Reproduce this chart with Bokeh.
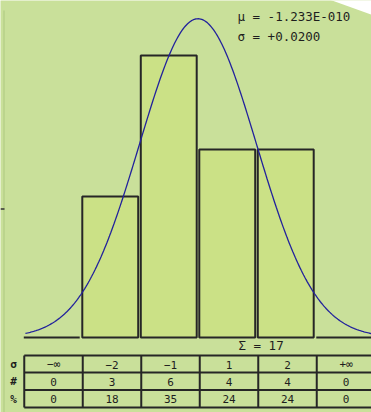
import numpy as np
from bokeh.plotting import figure
from bokeh.models import Range1d, ColumnDataSource
from bokeh.core.properties import value
from bokeh.embed import file_html
from bokeh.resources import INLINE

# ---------------- data ----------------
bin_labels = ["−∞", "−2", "−1", "1", "2", "+∞"]
bin_left = [-3, -2, -1, 0, 1, 2]      # in sigma units
bin_right = [-2, -1, 0, 1, 2, 3]
counts = [0, 3, 6, 4, 4, 0]
percents = [0, 18, 35, 24, 24, 0]
row_labels = ["σ", "#", "%"]
total = 17
mu_text = "μ = -1.233E-010"
sigma_text = "σ = +0.0200"

# ---------------- layout constants (pixels) ----------------
W, H = 371, 412
X0_PX, PX_PER_SIGMA = 197.5, 58.5
BASE_PX, PX_PER_COUNT = 337.0, 47.0

def zx(px):
    return (px - X0_PX) / PX_PER_SIGMA

def cy(py):
    return (BASE_PX - py) / PX_PER_COUNT

BG = "#c9e09a"
BAR = "#cbe186"
DARK = "#262626"
FONT = value("DejaVu Sans Mono")

p = figure(width=W, height=H, output_backend="svg", toolbar_location=None,
           x_range=Range1d(zx(0), zx(W)), y_range=Range1d(cy(H), cy(0)),
           min_border=0, min_border_left=0, min_border_right=0,
           min_border_top=0, min_border_bottom=0,
           background_fill_color=BG, border_fill_color=BG,
           outline_line_color=None)
p.axis.visible = False
p.grid.visible = False

# white corner at top right
p.patch([zx(326), zx(W + 2), zx(W + 2)], [cy(-2), cy(-2), cy(15)],
        fill_color="white", line_color=None)

# left edge line and tick
p.segment(x0=[zx(3.5)], y0=[cy(10)], x1=[zx(3.5)], y1=[cy(H)],
          line_color="#b6d089", line_width=1.5)
p.segment(x0=[zx(0)], y0=[cy(208.5)], x1=[zx(4)], y1=[cy(208.5)],
          line_color="#333333", line_width=1.5)

# histogram bars
gap = 0.022
src = ColumnDataSource(dict(
    left=[l + gap for l in bin_left], right=[r - gap for r in bin_right],
    top=counts, bottom=[0] * len(counts)))
p.quad(left="left", right="right", top="top", bottom="bottom", source=src,
       fill_color=BAR, line_color=DARK, line_width=2)

# fitted normal curve (sigma units, scaled to N * bin width)
z = np.linspace(-2.95, 3.1, 300)
curve = total * np.exp(-0.5 * z ** 2) / np.sqrt(2 * np.pi)
p.line(z, curve, line_color="#22229c", line_width=1.3)

# statistics text
p.text(x=[zx(237), zx(237)], y=[cy(16), cy(36)], text=[mu_text, sigma_text],
       text_font=FONT, text_font_size="12.5px", text_color="#1e1e1e",
       text_baseline="middle", text_align="left")
p.text(x=[zx(238)], y=[cy(344.5)], text=[f"Σ = {total}"],
       text_font=FONT, text_font_size="12.5px", text_color="#1e1e1e",
       text_baseline="middle", text_align="left")

# table
row_px = [355, 372, 389.5, 407]
col_shift = 0.03
tab_x = [b + col_shift for b in bin_left] + [bin_right[-1] + col_shift + 0.05]
tab_top, tab_bot = cy(row_px[0]), cy(row_px[-1])
p.segment(x0=tab_x, y0=[tab_top] * len(tab_x), x1=tab_x, y1=[tab_bot] * len(tab_x),
          line_color=DARK, line_width=2)
p.segment(x0=[tab_x[0]] * len(row_px), y0=[cy(r) for r in row_px],
          x1=[tab_x[-1]] * len(row_px), y1=[cy(r) for r in row_px],
          line_color=DARK, line_width=2)

centers = [(l + r) / 2 + col_shift for l, r in zip(bin_left, bin_right)]
row_mid = [cy((row_px[i] + row_px[i + 1]) / 2 + 0.5) for i in range(3)]
rows_text = [bin_labels, [str(c) for c in counts], [str(v) for v in percents]]
for rm, vals in zip(row_mid, rows_text):
    p.text(x=centers, y=[rm] * len(vals), text=vals, text_font=FONT,
           text_font_size="11px", text_color="#1e1e1e",
           text_baseline="middle", text_align="center")
p.text(x=[zx(13)] * 3, y=row_mid, text=row_labels, text_font=FONT,
       text_font_size="11px", text_color="#1e1e1e",
       text_baseline="middle", text_align="center", text_font_style="bold")

open("out.html", "w").write(file_html(p, INLINE))
